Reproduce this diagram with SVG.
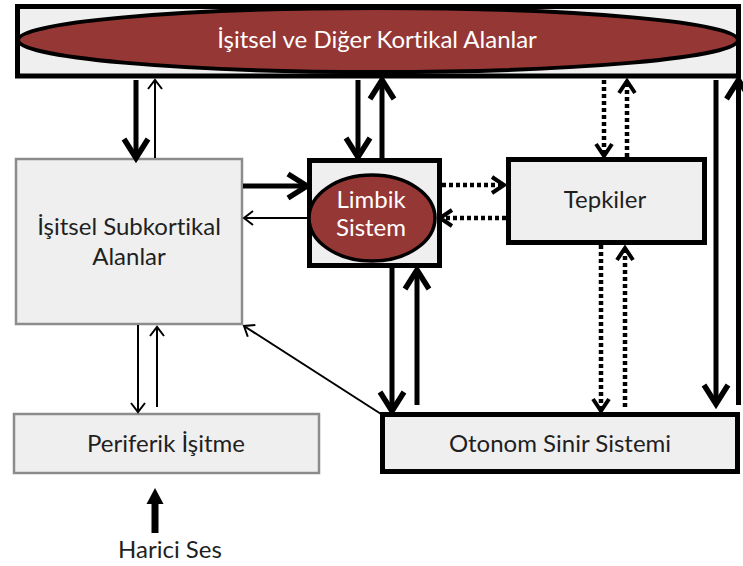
<svg xmlns="http://www.w3.org/2000/svg" width="743" height="566" viewBox="0 0 743 566">
  <style>
    .lbl { font-family: Lato, "Open Sans", "Liberation Sans", sans-serif; font-size: 24px; fill: #1f1f1f; text-anchor: middle; font-variant-ligatures: none; font-feature-settings: "liga" 0; }
    .lbl-w { fill: #ffffff; }
    .box-g { fill: #efefef; stroke: #8c8c8c; stroke-width: 2.5; }
    .box-k { fill: #efefef; stroke: #000; stroke-width: 5; }
    .oval { fill: #953735; stroke: #000; }
    .thick { stroke: #000; stroke-width: 5; fill: none; marker-end: url(#chevBig); }
    .thin { stroke: #000; stroke-width: 2; fill: none; marker-end: url(#chevSmall); }
    .dot { stroke: #000; stroke-width: 4.5; fill: none; stroke-dasharray: 4 3; marker-end: url(#chevDot); }
  </style>
  <defs>
    <marker id="chevBig" markerUnits="userSpaceOnUse" orient="auto" refX="0" refY="0" markerWidth="40" markerHeight="40" viewBox="-25 -20 40 40" overflow="visible">
      <path d="M-17,-12 L2,0 L-17,12" fill="none" stroke="#000" stroke-width="5.5" stroke-linejoin="miter"/>
    </marker>
    <marker id="chevSmall" markerUnits="userSpaceOnUse" orient="auto" refX="0" refY="0" markerWidth="20" markerHeight="20" viewBox="-15 -10 20 20" overflow="visible">
      <path d="M-9,-7 L0,0 L-9,7" fill="none" stroke="#000" stroke-width="2"/>
    </marker>
    <marker id="chevDot" markerUnits="userSpaceOnUse" orient="auto" refX="0" refY="0" markerWidth="30" markerHeight="30" viewBox="-20 -15 30 30" overflow="visible">
      <path d="M-11,-8 L1,0 L-11,8" fill="none" stroke="#000" stroke-width="4"/>
    </marker>
  </defs>

  <!-- cortical band across the top -->
  <g id="kortikal">
    <rect x="17.5" y="6.5" width="721" height="69.5" class="box-k" stroke-width="6.5"/>
    <ellipse cx="378" cy="40" rx="360" ry="32" class="oval" stroke-width="4"/>
    <text x="377" y="48" class="lbl lbl-w" font-size="23.5">İşitsel ve Diğer Kortikal Alanlar</text>
  </g>

  <g id="subkortikal">
    <rect x="16" y="159" width="226" height="165" class="box-g"/>
    <text x="129" y="235" class="lbl">İşitsel Subkortikal</text>
    <text x="129" y="265" class="lbl">Alanlar</text>
  </g>

  <g id="limbik">
    <rect x="309.5" y="160.5" width="130" height="105" class="box-k"/>
    <ellipse cx="372" cy="218" rx="63" ry="43" class="oval" stroke-width="3.5"/>
    <text x="371" y="208" class="lbl lbl-w" font-size="18">Limbik</text>
    <text x="371" y="236" class="lbl lbl-w" font-size="18">Sistem</text>
  </g>

  <g id="tepkiler">
    <rect x="508.5" y="159.5" width="196" height="83" class="box-k"/>
    <text x="605" y="208" class="lbl">Tepkiler</text>
  </g>

  <g id="periferik">
    <rect x="14" y="414" width="305" height="59" class="box-g"/>
    <text x="166" y="452" class="lbl">Periferik İşitme</text>
  </g>

  <g id="otonom">
    <rect x="382.5" y="414.5" width="355" height="57" class="box-k"/>
    <text x="560" y="452" class="lbl">Otonom Sinir Sistemi</text>
  </g>

  <g id="harici">
    <text x="170" y="558" class="lbl">Harici Ses</text>
  </g>

  <g id="connectors">
    <!-- cortex <-> subcortical -->
    <line x1="136" y1="80" x2="136" y2="156" class="thick"/>
    <line x1="155" y1="158" x2="155" y2="80" class="thin"/>
    <!-- cortex <-> limbic -->
    <line x1="358" y1="80" x2="358" y2="155" class="thick"/>
    <line x1="382" y1="158" x2="382" y2="82" class="thick"/>
    <!-- cortex <-> responses -->
    <line x1="604" y1="80" x2="604" y2="155" class="dot"/>
    <line x1="627" y1="157" x2="627" y2="82" class="dot"/>
    <!-- cortex <-> autonomic -->
    <line x1="716" y1="80" x2="716" y2="402" class="thick"/>
    <line x1="738.5" y1="405" x2="738.5" y2="82" class="thick"/>
    <!-- subcortical <-> limbic -->
    <line x1="243" y1="186" x2="305" y2="186" class="thick"/>
    <line x1="309" y1="218" x2="244" y2="218" class="thin"/>
    <!-- limbic <-> responses -->
    <line x1="442" y1="185" x2="503" y2="185" class="dot"/>
    <line x1="506" y1="218" x2="441" y2="218" class="dot"/>
    <!-- limbic <-> autonomic -->
    <line x1="392" y1="268" x2="392" y2="409" class="thick"/>
    <line x1="417" y1="405" x2="417" y2="272" class="thick"/>
    <!-- responses <-> autonomic -->
    <line x1="601" y1="245" x2="601" y2="410" class="dot"/>
    <line x1="625" y1="407" x2="625" y2="249" class="dot"/>
    <!-- autonomic -> subcortical -->
    <line x1="381" y1="414" x2="244" y2="326" class="thin"/>
    <!-- subcortical <-> peripheral -->
    <line x1="138" y1="325" x2="138" y2="412" class="thin"/>
    <line x1="157" y1="407" x2="157" y2="327" class="thin"/>
    <!-- external sound -->
    <line x1="155" y1="533" x2="155" y2="502" stroke="#000" stroke-width="7"/>
    <path d="M146.5,504 L155,488 L163.5,504 Z" fill="#000"/>
  </g>
</svg>
